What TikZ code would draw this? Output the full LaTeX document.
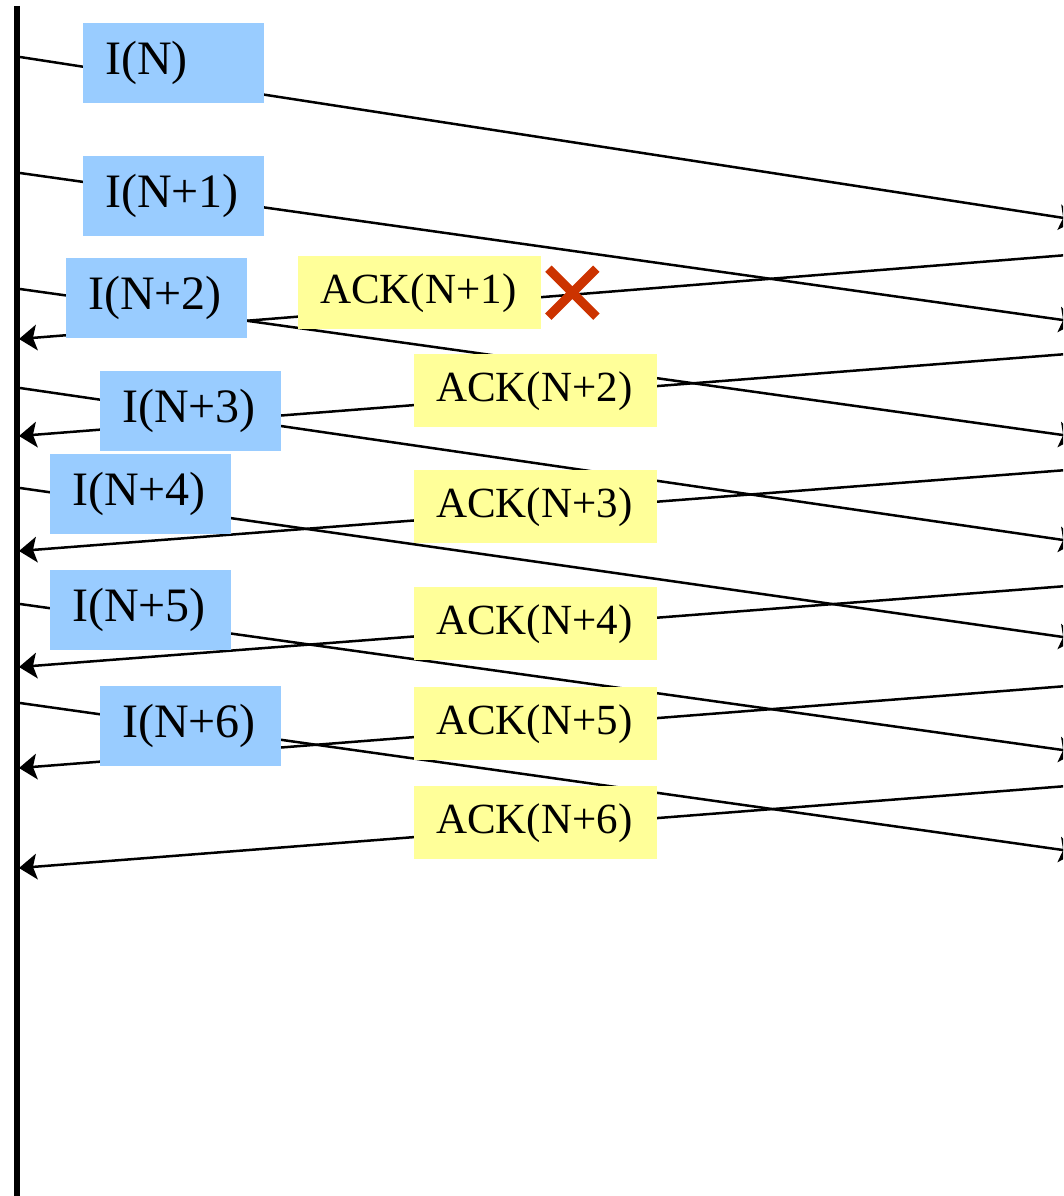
\documentclass[tikz,border=0pt]{standalone}
\usepackage{fontspec}
\setmainfont{Liberation Serif}
\usetikzlibrary{arrows.meta, shapes.misc, positioning}
\definecolor{iblue}{HTML}{99CCFF}
\definecolor{ackyellow}{HTML}{FFFF99}
\definecolor{lostred}{HTML}{CC3300}
\tikzstyle{station} = [line width=6pt]
\tikzstyle{frame} = [line width=2.5pt, -{Stealth[length=18pt, width=26pt, inset=4pt, line width=0pt]}]
\tikzstyle{ibox} = [rectangle, fill=iblue, anchor=north west, inner xsep=22pt, inner ysep=0pt, text width=137pt, minimum height=80pt, align=left, font=\fontsize{48}{50}\selectfont]
\tikzstyle{ackbox} = [rectangle, fill=ackyellow, anchor=north west, inner xsep=22pt, inner ysep=0pt, text width=199pt, minimum height=73pt, align=left, font=\fontsize{43}{45}\selectfont]
\tikzstyle{lost} = [cross out, draw=lostred, line width=9pt, minimum size=48pt, inner sep=0pt, outer sep=0pt]

\begin{document}
\begin{tikzpicture}[x=1pt, y=-1pt]

\useasboundingbox (0,0) rectangle (1063,1196);
\clip (0,0) rectangle (1063,1196);

% Sender line
\coordinate (top) at (17,6);
\coordinate (bottom) at (17,1200);
\draw [station] (top) -- (bottom);

% I frame end points
\coordinate (i0s) at (20,57);   \coordinate (i0e) at (1077,220);
\coordinate (i1s) at (20,173);  \coordinate (i1e) at (1077,322);
\coordinate (i2s) at (20,289);  \coordinate (i2e) at (1077,437);
\coordinate (i3s) at (20,388);  \coordinate (i3e) at (1077,542);
\coordinate (i4s) at (20,488);  \coordinate (i4e) at (1077,639);
\coordinate (i5s) at (20,604);  \coordinate (i5e) at (1077,752);
\coordinate (i6s) at (20,703);  \coordinate (i6e) at (1077,852);

% ACK end points
\coordinate (a1s) at (1080,254); \coordinate (a1e) at (19,339);
\coordinate (a2s) at (1080,353); \coordinate (a2e) at (19,436);
\coordinate (a3s) at (1080,469); \coordinate (a3e) at (19,551);
\coordinate (a4s) at (1080,585); \coordinate (a4e) at (19,667);
\coordinate (a5s) at (1080,685); \coordinate (a5e) at (19,768);
\coordinate (a6s) at (1080,785); \coordinate (a6e) at (19,868);

% Frames
\draw [frame] (i0s) -- (i0e);
\draw [frame] (i1s) -- (i1e);
\draw [frame] (i2s) -- (i2e);
\draw [frame] (i3s) -- (i3e);
\draw [frame] (i4s) -- (i4e);
\draw [frame] (i5s) -- (i5e);
\draw [frame] (i6s) -- (i6e);

% Acknowledgements
\draw [frame] (a1s) -- (a1e);
\draw [frame] (a2s) -- (a2e);
\draw [frame] (a3s) -- (a3e);
\draw [frame] (a4s) -- (a4e);
\draw [frame] (a5s) -- (a5e);
\draw [frame] (a6s) -- (a6e);

% I frame labels
\node (iN) [ibox] at (83,23) {I(N)};
\node (iN1) [ibox] at (83,156) {I(N+1)};
\node (iN2) [ibox] at (66,258) {I(N+2)};
\node (iN3) [ibox] at (100,371) {I(N+3)};
\node (iN4) [ibox] at (50,454) {I(N+4)};
\node (iN5) [ibox] at (50,570) {I(N+5)};
\node (iN6) [ibox] at (100,686) {I(N+6)};

% ACK labels
\node (ackN1) [ackbox] at (298,256) {ACK(N+1)};
\node (ackN2) [ackbox] at (414,354) {ACK(N+2)};
\node (ackN3) [ackbox] at (414,470) {ACK(N+3)};
\node (ackN4) [ackbox] at (414,587) {ACK(N+4)};
\node (ackN5) [ackbox] at (414,687) {ACK(N+5)};
\node (ackN6) [ackbox] at (414,786) {ACK(N+6)};

% Lost ACK
\node (lostack) [lost, right=7pt of ackN1] {};

\end{tikzpicture}
\end{document}
